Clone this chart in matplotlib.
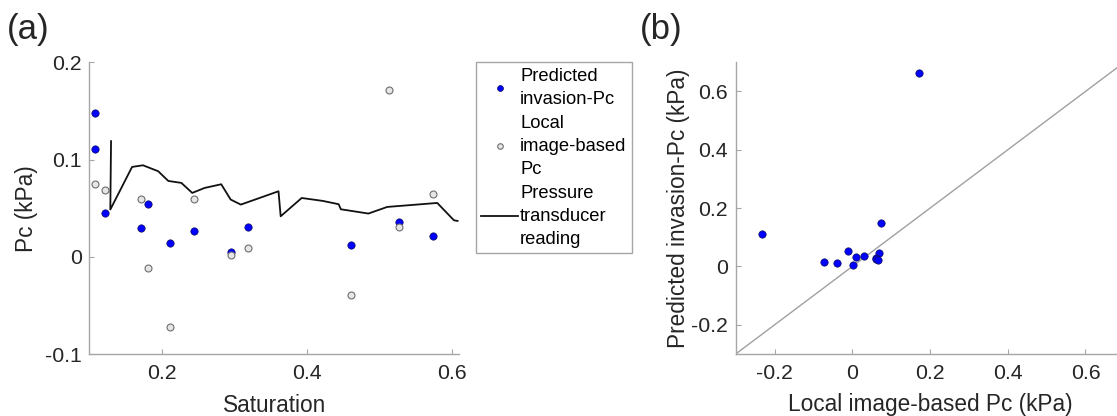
import matplotlib
matplotlib.use("Agg")
import matplotlib.pyplot as plt

plt.rcParams['font.family'] = ['Liberation Sans', 'DejaVu Sans']

# ---- data ----
saturation = [0.108, 0.108, 0.121, 0.171, 0.181, 0.211, 0.244, 0.295, 0.319, 0.461, 0.513, 0.527, 0.574]
predicted_pc = [0.148, 0.111, 0.045, 0.0295, 0.054, 0.014, 0.027, 0.0055, 0.031, 0.012, 0.662, 0.036, 0.022]
local_pc = [0.075, -0.233, 0.069, 0.060, -0.011, -0.0715, 0.060, 0.002, 0.009, -0.039, 0.172, 0.0305, 0.065]

transducer_sat = [0.130, 0.129, 0.159, 0.174, 0.195, 0.209, 0.227, 0.242, 0.259, 0.282, 0.295,
                  0.309, 0.361, 0.364, 0.393, 0.422, 0.444, 0.447, 0.485, 0.511, 0.580, 0.603, 0.608]
transducer_pc = [0.119, 0.0487, 0.0925, 0.0942, 0.0881, 0.0781, 0.0761, 0.0658, 0.0709, 0.0747, 0.0590,
                 0.0538, 0.0675, 0.0418, 0.0606, 0.0576, 0.0542, 0.0490, 0.0446, 0.0514, 0.0555, 0.0377, 0.0370]

a_xticks = [0.2, 0.4, 0.6]
a_yticks = [-0.1, 0, 0.1, 0.2]
b_ticks = [-0.2, 0, 0.2, 0.4, 0.6]

W, H = 1117, 416
fig = plt.figure(figsize=(W / 100, H / 100), dpi=100)

txt = '#262626'
spine = '#a6a6a6'
tick_fs = 15.3
label_fs = 16.3

def style(ax):
    for s in ['top', 'right']:
        ax.spines[s].set_visible(False)
    for s in ['left', 'bottom']:
        ax.spines[s].set_color(spine)
        ax.spines[s].set_linewidth(1.0)
    ax.tick_params(direction='in', length=3.5, width=0.8, color=spine,
                   labelsize=tick_fs, labelcolor=txt)
    ax.tick_params(axis='x', pad=7)
    ax.tick_params(axis='y', pad=5.5)

def fmt(v):
    return f"{v:g}"

# ---- panel (a) ----
ax1 = fig.add_axes([89.3 / W, 1 - 354.3 / H, (459 - 89.3) / W, (354.3 - 62.3) / H])
style(ax1)
ax1.plot(saturation, predicted_pc, 'o', ms=5.3, mfc='#0000ff', mec='#10105a', mew=0.5,
         label='Predicted\ninvasion-Pc')
ax1.plot(saturation, local_pc, 'o', ms=5.0, mfc='#e6e6e6', mec='#6e6e6e', mew=0.8,
         label='Local\nimage-based\nPc')
ax1.plot(transducer_sat, transducer_pc, '-', color='#111111', lw=1.3,
         label='Pressure\ntransducer\nreading')
ax1.set_xlim(0.1, 0.61)
ax1.set_ylim(-0.1, 0.2)
ax1.set_xticks(a_xticks)
ax1.set_xticklabels([fmt(v) for v in a_xticks])
ax1.set_yticks(a_yticks)
ax1.set_yticklabels([fmt(v) for v in a_yticks])
ax1.set_xlabel('Saturation', fontsize=label_fs, color=txt)
ax1.set_ylabel('Pc (kPa)', fontsize=label_fs, color=txt)
ax1.yaxis.set_label_coords(-0.14, 0.5)
ax1.xaxis.set_label_coords(0.5, -0.135)

leg = ax1.legend(loc='upper left', bbox_to_anchor=(476 / W, 1 - 62.3 / H),
                 bbox_transform=fig.transFigure, borderaxespad=0,
                 fancybox=False, edgecolor='#a6a6a6', framealpha=1,
                 fontsize=13.2, handlelength=2.0, handletextpad=0.1,
                 borderpad=0.3, labelspacing=0.4, markerscale=0.8)
leg.get_frame().set_linewidth(1.0)
for t in leg.get_texts():
    t.set_color('#000000')
    t.set_linespacing(1.45)

fig.text(7 / W, 1 - 29 / H, '(a)', fontsize=25, color=txt, va='center', ha='left')

# ---- panel (b) ----
ax2 = fig.add_axes([735.7 / W, 1 - 354 / H, 388.6 / W, (354 - 62.3) / H])
style(ax2)
ax2.plot([-0.3, 0.7], [-0.3, 0.7], '-', color='#a0a0a0', lw=1.0)
ax2.plot(local_pc, predicted_pc, 'o', ms=5.3, mfc='#0000ff', mec='#10105a', mew=0.5)
ax2.set_xlim(-0.3, 0.7)
ax2.set_ylim(-0.3, 0.7)
ax2.set_xticks(b_ticks)
ax2.set_xticklabels([fmt(v) for v in b_ticks])
ax2.set_yticks(b_ticks)
ax2.set_yticklabels([fmt(v) for v in b_ticks])
ax2.set_xlabel('Local image-based Pc (kPa)', fontsize=label_fs, color=txt)
ax2.set_ylabel('Predicted invasion-Pc (kPa)', fontsize=label_fs, color=txt)
ax2.yaxis.set_label_coords(-0.117, 0.5)
ax2.xaxis.set_label_coords(0.5, -0.135)

fig.text(640 / W, 1 - 29 / H, '(b)', fontsize=25, color=txt, va='center', ha='left')

fig.savefig('out.png', dpi=100)
